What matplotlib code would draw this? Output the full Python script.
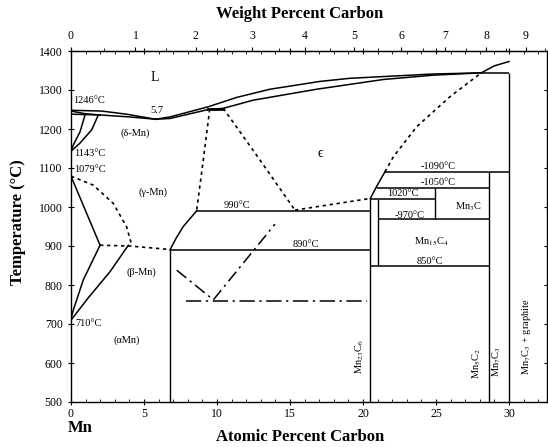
import numpy as np
import matplotlib
matplotlib.use("Agg")
import matplotlib.pyplot as plt

plt.rcParams['font.family'] = ['Liberation Serif', 'DejaVu Serif']
plt.rcParams['mathtext.fontset'] = 'stix'

# ---------------- data (atomic % C, temperature degC) ----------------
x_ticks = [0, 5, 10, 15, 20, 25, 30]
y_ticks = [500, 600, 700, 800, 900, 1000, 1100, 1200, 1300, 1400]
wt_ticks = [0, 1, 2, 3, 4, 5, 6, 7, 8, 9]

liqL_up_x = [0, 2.1, 3.8, 5.8]
liqL_up_T = [1248, 1246, 1238, 1225]
liqL_lo_x = [0, 1.0, 2.0, 4.0, 5.8]
liqL_lo_T = [1246, 1239, 1236, 1231, 1225]

lens1_x = [0.96, 0.62, 0.16, 0]
lens1_T = [1236, 1193, 1159, 1143]
lens2_x = [1.87, 1.42, 0.62, 0]
lens2_T = [1236, 1198, 1164, 1143]

liqR_up_x = [5.8, 6.78, 9.4, 11.35, 13.63, 17.05, 19.1, 24.8, 28.1]
liqR_up_T = [1225, 1231, 1257, 1281, 1302, 1322, 1330, 1341, 1344]
liqR_lo_x = [5.8, 6.78, 9.4, 10.43, 12.49, 16.83, 21.4, 24.8, 28.1]
liqR_lo_T = [1225, 1227, 1250, 1253, 1274, 1302, 1327, 1338, 1344]
peri_x = [9.4, 10.43]
peri_T = [1251, 1251]

graph_x = [28.1, 29.0, 30.0]
graph_T = [1344, 1362, 1373]

gam_beta_x = [0, 1.99]
gam_beta_T = [1079, 902]
gam_beta2_x = [0, 1.53, 2.9, 3.81, 4.16]
gam_beta2_T = [1079, 1056, 1009, 949, 902]
eut900_x = [1.99, 4.0, 6.78]
eut900_T = [902, 900, 891]
beta_a1_x = [1.99, 0.84, 0.16, 0]
beta_a1_T = [902, 813, 736, 714]
beta_a2_x = [3.93, 2.67, 1.2, 0]
beta_a2_T = [902, 834, 768, 710]

gam_eps_x = [6.78, 7.2, 7.69, 8.6]
gam_eps_T = [890, 920, 950, 990]

gL_dot_x = [9.5, 9.06, 8.6]
gL_dot_T = [1251, 1120, 990]
eL_dot_x = [10.43, 12.95, 15.34]
eL_dot_T = [1253, 1120, 992]
eps_low_x = [15.34, 20.5]
eps_low_T = [992, 1022]
eps_slant_x = [20.5, 20.98, 21.5]
eps_slant_T = [1022, 1056, 1090]
eps_up_x = [21.5, 22.08, 23.68, 25.96, 28.1]
eps_up_T = [1090, 1129, 1206, 1283, 1344]

# isotherms: (x_start, x_end, T)
iso_x0 = [8.6, 6.78, 21.5, 20.98, 20.5, 21.0, 20.5, 28.1]
iso_x1 = [20.5, 20.5, 30.0, 28.6, 24.93, 28.6, 28.6, 30.0]
iso_T = [990, 890, 1090, 1050, 1020, 970, 850, 1344]

# vertical phase lines: (x, T_bottom, T_top)
vert_x = [6.78, 20.5, 21.0, 24.93, 28.6, 30.0]
vert_T0 = [500, 500, 850, 970, 500, 500]
vert_T1 = [890, 1022, 1020, 1050, 1090, 1344]

mag1_x = [7.24, 9.75, 13.97]
mag1_T = [838, 762, 956]
mag2_x = [7.9, 20.25]
mag2_T = [760, 760]

# ---------------- figure ----------------
W, H = 548, 447
fig = plt.figure(figsize=(W / 100, H / 100), dpi=100)
ax = fig.add_axes([71 / W, 45 / H, (547 - 71) / W, (402 - 51) / H])
ax.set_xlim(0, 32.6)
ax.set_ylim(500, 1400)

k = dict(color='black', lw=1.1)
kd = dict(color='black', lw=1.2, ls=(0, (2, 2.2)))

ax.plot(liqL_up_x, liqL_up_T, **k)
ax.plot(liqL_lo_x, liqL_lo_T, **k)
ax.plot(lens1_x, lens1_T, **k)
ax.plot(lens2_x, lens2_T, **k)
ax.plot([0, 2.0], [1238, 1236], **k)
ax.plot(liqR_up_x, liqR_up_T, **k)
ax.plot(liqR_lo_x, liqR_lo_T, **k)
ax.plot(peri_x, peri_T, color='black', lw=2)
ax.plot(graph_x, graph_T, **k)
ax.plot(gam_beta_x, gam_beta_T, **k)
ax.plot(gam_beta2_x, gam_beta2_T, **kd)
ax.plot(eut900_x, eut900_T, **kd)
ax.plot(beta_a1_x, beta_a1_T, **k)
ax.plot(beta_a2_x, beta_a2_T, **k)
ax.plot(gam_eps_x, gam_eps_T, **k)
ax.plot(gL_dot_x, gL_dot_T, **kd)
ax.plot(eL_dot_x, eL_dot_T, **kd)
ax.plot(eps_low_x, eps_low_T, **kd)
ax.plot(eps_slant_x, eps_slant_T, **k)
ax.plot(eps_up_x, eps_up_T, **kd)
ax.hlines(iso_T, iso_x0, iso_x1, color='black', lw=1.1)
ax.vlines(vert_x, vert_T0, vert_T1, color='black', lw=1.0)
ax.plot(mag1_x, mag1_T, color='black', lw=1.1, ls=(0, (8, 3, 1.5, 3)))
ax.plot(mag2_x, mag2_T, color='black', lw=1.1, ls=(0, (10, 3, 1.5, 3)))

fs = 7.5
def t(x, y, s, **kw):
    ax.text(x, y, s, fontsize=kw.pop('fontsize', fs), **kw)

t(5.75, 1331, 'L', ha='center', va='center', fontsize=10)
t(0.15, 1274, '1246°C', ha='left', va='center')
t(5.87, 1247, '5.7', ha='center', va='center')
t(4.38, 1189, '(δ-Mn)', ha='center', va='center')
t(0.2, 1136, '1143°C', ha='left', va='center')
t(0.2, 1095, '1079°C', ha='left', va='center')
t(5.64, 1037, '(γ-Mn)', ha='center', va='center')
t(11.35, 1003, '990°C', ha='center', va='center')
t(17.05, 1138, 'ϵ', ha='center', va='center', fontsize=10)
t(25.16, 1105, '-1090°C', ha='center', va='center')
t(25.16, 1064, '-1050°C', ha='center', va='center')
t(22.76, 1035, '1020°C', ha='center', va='center')
t(23.2, 979, '-970°C', ha='center', va='center')
t(27.2, 1001, r'Mn$_3$C', ha='center', va='center')
t(24.7, 911, r'Mn$_{15}$C$_4$', ha='center', va='center')
t(24.6, 860, '850°C', ha='center', va='center')
t(16.1, 903, '890°C', ha='center', va='center')
t(4.84, 834, '(β-Mn)', ha='center', va='center')
t(0.3, 700, '710°C', ha='left', va='center')
t(3.8, 659, '(αMn)', ha='center', va='center')
t(19.75, 616, r'Mn$_{23}$C$_6$', ha='center', va='center', rotation=90)
t(27.8, 599, r'Mn$_5$C$_2$', ha='center', va='center', rotation=90)
t(29.16, 603, r'Mn$_7$C$_3$', ha='center', va='center', rotation=90)
t(31.2, 667, r'Mn$_7$C$_3$ + graphite', ha='center', va='center', rotation=90)

ax.set_xticks(x_ticks)
ax.set_yticks(y_ticks)
ax.set_xticks(np.arange(0, 33, 1), minor=True)
ax.tick_params(axis='both', which='major', labelsize=8.5, direction='inout',
               length=5, width=0.8, top=True, right=True)
ax.tick_params(axis='x', which='major', pad=1.5)
ax.tick_params(axis='both', which='minor', direction='in', length=2, width=0.6,
               top=True)
for s in ax.spines.values():
    s.set_linewidth(1.0)


def at2wt(a):
    a = np.asarray(a, dtype=float)
    return 100 * a * 12.011 / (a * 12.011 + (100 - a) * 54.938)


def wt2at(w):
    w = np.asarray(w, dtype=float)
    nc = w / 12.011
    nm = (100 - w) / 54.938
    return 100 * nc / (nc + nm)


sec = ax.secondary_xaxis('top', functions=(at2wt, wt2at))
sec.set_xticks(wt_ticks)
sec.set_xticks(np.arange(0.5, 9.6, 1), minor=True)
sec.tick_params(which='major', labelsize=8.5, direction='out', length=3, width=0.8)
sec.tick_params(which='minor', direction='out', length=2, width=0.6)

fig.text(300 / W, 1 - 14 / H, 'Weight Percent Carbon', ha='center', va='center',
         fontsize=12, fontweight='bold')
fig.text(300 / W, 1 - 437 / H, 'Atomic Percent Carbon', ha='center', va='center',
         fontsize=12, fontweight='bold')
fig.text(18 / W, 1 - 222 / H, 'Temperature (°C)', ha='center', va='center',
         fontsize=12, fontweight='bold', rotation=90)
fig.text(80 / W, 1 - 428 / H, 'Mn', ha='center', va='center',
         fontsize=12, fontweight='bold')

fig.savefig('out.png', dpi=100)
